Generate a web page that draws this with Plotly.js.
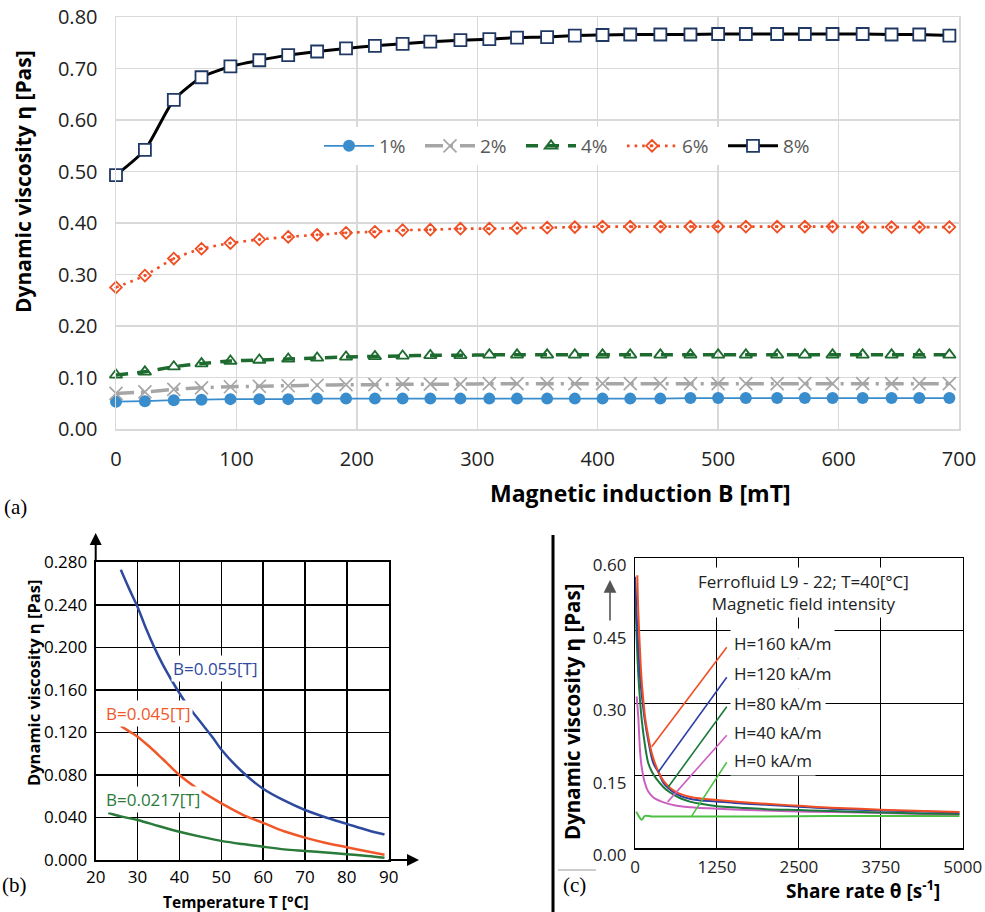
<!DOCTYPE html>
<html><head><meta charset="utf-8">
<script src="https://cdn.plot.ly/plotly-3.0.1.min.js"></script>
<style>html,body{margin:0;padding:0;background:#fff}#chart{width:985px;height:912px}</style>
</head><body><div id="chart"></div>
<script>
// ---------- Panel (a): viscosity vs magnetic induction ----------
const B_mT = [0,24,48,71,95,119,143,167,191,215,238,261,286,310,333,358,381,404,427,452,477,500,523,549,572,595,620,644,667,692];
const eta1pct = [0.053,0.054,0.056,0.057,0.058,0.058,0.058,0.059,0.059,0.059,0.059,0.059,0.059,0.059,0.059,0.059,0.059,0.059,0.059,0.059,0.060,0.060,0.060,0.060,0.060,0.060,0.060,0.060,0.060,0.060];
const eta2pct = [0.069,0.072,0.077,0.080,0.082,0.083,0.084,0.085,0.086,0.086,0.087,0.087,0.087,0.088,0.088,0.088,0.088,0.088,0.088,0.088,0.088,0.088,0.088,0.088,0.088,0.088,0.088,0.088,0.088,0.088];
const eta4pct = [0.105,0.111,0.121,0.127,0.132,0.134,0.136,0.138,0.140,0.141,0.142,0.143,0.143,0.144,0.144,0.144,0.144,0.144,0.144,0.144,0.144,0.144,0.144,0.144,0.144,0.144,0.144,0.144,0.144,0.144];
const eta6pct = [0.275,0.298,0.331,0.350,0.361,0.368,0.373,0.377,0.381,0.383,0.386,0.387,0.389,0.389,0.390,0.391,0.392,0.393,0.393,0.393,0.393,0.393,0.393,0.393,0.393,0.393,0.392,0.392,0.392,0.392];
const eta8pct = [0.493,0.542,0.639,0.683,0.704,0.716,0.726,0.733,0.739,0.744,0.748,0.752,0.755,0.757,0.760,0.761,0.764,0.765,0.766,0.766,0.766,0.767,0.767,0.767,0.767,0.767,0.767,0.766,0.766,0.764];
const seriesNamesA = ['1%','2%','4%','6%','8%'];
const xTicksA = [0,100,200,300,400,500,600,700];

// ---------- Panel (b): viscosity vs temperature ----------
const T_b055 = [26,28,30,32,34,36,38,40,42,45,48,50,55,60,65,70,75,80,85,89];
const eta_b055 = [0.273,0.255,0.238,0.218,0.200,0.184,0.170,0.157,0.145,0.130,0.115,0.104,0.083,0.067,0.056,0.047,0.040,0.034,0.028,0.024];
const T_b045 = [26,28,30,33,36,40,44,48,52,56,60,65,70,75,80,85,89];
const eta_b045 = [0.126,0.121,0.116,0.106,0.095,0.080,0.068,0.058,0.049,0.041,0.035,0.027,0.021,0.016,0.012,0.008,0.005];
const T_b0217 = [23,26,30,35,40,45,50,55,60,65,70,75,80,85,89];
const eta_b0217 = [0.0445,0.041,0.0376,0.032,0.0266,0.022,0.018,0.015,0.0125,0.010,0.0085,0.007,0.0054,0.0038,0.0022];
const labelsB = ['B=0.055[T]','B=0.045[T]','B=0.0217[T]'];
const xTicksB = [20,30,40,50,60,70,80,90];

// ---------- Panel (c): viscosity vs shear rate ----------
const sr_H160 = [35,50,76,100,127,160,203,250,305,370,432,520,600,700,850,1000,1250,1600,2000,2500,3000,3750,4400,4950];
const eta_H160 = [0.565,0.49,0.41,0.35,0.307,0.265,0.231,0.200,0.176,0.155,0.140,0.127,0.119,0.112,0.106,0.103,0.100,0.096,0.092,0.088,0.084,0.080,0.077,0.075];
const sr_H120 = [0,20,40,60,80,112,150,200,280,356,432,520,600,700,850,1000,1250,1600,2000,2500,3000,3750,4400,4950];
const eta_H120 = [0.562,0.50,0.44,0.39,0.35,0.307,0.265,0.225,0.176,0.158,0.136,0.123,0.115,0.108,0.102,0.099,0.097,0.093,0.090,0.086,0.082,0.078,0.076,0.074];
const sr_H80 = [0,15,30,50,76,100,140,203,260,330,432,508,600,700,850,1000,1250,1600,2000,2500,3000,3750,4400,4950];
const eta_H80 = [0.555,0.48,0.42,0.36,0.307,0.27,0.225,0.176,0.158,0.143,0.127,0.118,0.110,0.103,0.096,0.092,0.087,0.084,0.081,0.079,0.077,0.074,0.072,0.071];
const sr_H40 = [26,40,50,60,76,100,153,200,280,380,484,600,700,850,942,1250,1600,2000,2500,3000,3750,4400,4950];
const eta_H40 = [0.314,0.29,0.272,0.245,0.203,0.170,0.134,0.118,0.105,0.098,0.093,0.089,0.087,0.085,0.084,0.082,0.080,0.078,0.076,0.075,0.073,0.071,0.070];
const sr_H0 = [20,60,100,153,250,500,1000,2000,3000,4000,4950];
const eta_H0 = [0.076,0.066,0.059,0.067,0.066,0.066,0.066,0.066,0.067,0.067,0.067];
const labelsC = ['H=160 kA/m','H=120 kA/m','H=80 kA/m','H=40 kA/m','H=0 kA/m'];
const leaderX0 = [255,356,508,499,866];
const leaderY0 = [0.210,0.158,0.127,0.096,0.067];
const leaderX1 = [1400,1400,1400,1400,1400];
const leaderY1 = [0.416,0.354,0.293,0.234,0.178];
const xTicksC = [0,1250,2500,3750,5000];
const yTicksC = [0,0.15,0.30,0.45,0.60];

// ---------- helpers ----------
const W = 985, H = 912;
const X = p => p / W, Y = p => 1 - p / H;
const FONT = 'Open Sans, Roboto, sans-serif';
const SERIF = 'Liberation Serif, DejaVu Serif, serif';

// ---------- traces ----------
const colA = ['#3a8dcc','#a6a6a6','#1e6b30','#f04e23','#000000'];
const traces = [
  {x:B_mT, y:eta1pct, name:seriesNamesA[0], mode:'lines+markers', cliponaxis:false,
   line:{color:colA[0], width:1.8, shape:'spline', smoothing:0.6},
   marker:{symbol:'circle', size:12, color:colA[0]}},
  {x:B_mT, y:eta2pct, name:seriesNamesA[1], mode:'lines+markers', cliponaxis:false,
   line:{color:colA[1], width:3.5, dash:'18px,7px,3px,7px', shape:'spline', smoothing:0.6},
   marker:{symbol:'x-thin-open', size:13, color:colA[1], line:{width:1.7, color:colA[1]}}},
  {x:B_mT, y:eta4pct, name:seriesNamesA[2], mode:'lines+markers', cliponaxis:false,
   line:{color:colA[2], width:3.5, dash:'12px,9px', shape:'spline', smoothing:0.6},
   marker:{symbol:'triangle-up-open', size:11, color:colA[2], line:{width:1.8, color:colA[2]}}},
  {x:B_mT, y:eta6pct, name:seriesNamesA[3], mode:'lines+markers', cliponaxis:false,
   line:{color:colA[3], width:2.6, dash:'2.6px,5px', shape:'spline', smoothing:0.6},
   marker:{symbol:'diamond-open-dot', size:9, color:colA[3], line:{width:1.8, color:colA[3]}}},
  {x:B_mT, y:eta8pct, name:seriesNamesA[4], mode:'lines+markers', cliponaxis:false,
   line:{color:colA[4], width:3, shape:'spline', smoothing:0.6},
   marker:{symbol:'square', size:12, color:'#ffffff', line:{width:1.8, color:'#1f3864'}}},

  {x:T_b055, y:eta_b055, xaxis:'x2', yaxis:'y2', mode:'lines', showlegend:false,
   line:{color:'#2e4a9e', width:2.5, shape:'spline'}},
  {x:T_b045, y:eta_b045, xaxis:'x2', yaxis:'y2', mode:'lines', showlegend:false,
   line:{color:'#f0582a', width:2.5, shape:'spline'}},
  {x:T_b0217, y:eta_b0217, xaxis:'x2', yaxis:'y2', mode:'lines', showlegend:false,
   line:{color:'#2a7a3a', width:2.5, shape:'spline'}},

  {x:sr_H0, y:eta_H0, xaxis:'x3', yaxis:'y3', mode:'lines', showlegend:false,
   line:{color:'#4dc044', width:2, shape:'spline'}},
  {x:sr_H40, y:eta_H40, xaxis:'x3', yaxis:'y3', mode:'lines', showlegend:false,
   line:{color:'#cc5fc0', width:2, shape:'spline'}},
  {x:sr_H80, y:eta_H80, xaxis:'x3', yaxis:'y3', mode:'lines', showlegend:false,
   line:{color:'#1b7a3b', width:2, shape:'spline'}},
  {x:sr_H120, y:eta_H120, xaxis:'x3', yaxis:'y3', mode:'lines', showlegend:false,
   line:{color:'#2e3fa6', width:2, shape:'spline'}},
  {x:sr_H160, y:eta_H160, xaxis:'x3', yaxis:'y3', mode:'lines', showlegend:false,
   line:{color:'#f04e23', width:2, shape:'spline'}}
];
const colC = ['#f04e23','#2e3fa6','#1b7a3b','#cc5fc0','#4dc044'];

// ---------- annotations ----------
const ann = [];
function txt(text, px, py, size, opts) {
  ann.push(Object.assign({text:text, xref:'paper', yref:'paper', x:X(px), y:Y(py),
    xanchor:'center', yanchor:'middle',
    showarrow:false, font:{family:FONT, size:size, color:'#000'}}, opts || {}));
}
txt('<b>Dynamic viscosity η [Pas]</b>', 23, 182, 21, {textangle:-90});
txt('<b>Magnetic induction B [mT]</b>', 640, 493, 23);
txt('(a)', 15, 507, 21, {font:{family:SERIF, size:21, color:'#000'}});

txt('<b>Dynamic viscosity η [Pas]</b>', 33, 683, 16.5, {textangle:-90});
txt('<b>Temperature T [°C]</b>', 236, 902, 15.5);
txt('(b)', 14, 885, 21, {font:{family:SERIF, size:21, color:'#000'}});
const labBpos = [[215,668,'#2e4a9e'],[148,713,'#f0582a'],[153,799,'#2a7a3a']];
labelsB.forEach((t,i) => txt(t, labBpos[i][0], labBpos[i][1], 17,
  {font:{family:FONT, size:17, color:labBpos[i][2]}, bgcolor:'#ffffff', borderpad:1}));

txt('<b>Dynamic viscosity η [Pas]</b>', 572, 712, 20.5, {textangle:-90});
txt('<b>Share rate θ [s<sup>-1</sup>]</b>', 863, 890, 19);
txt('(c)', 574, 885, 21, {font:{family:SERIF, size:21, color:'#000'}});
txt('Ferrofluid L9 - 22; T=40[°C]<br>Magnetic field intensity', 803, 592, 17,
  {font:{family:FONT, size:17, color:'#222'}, bgcolor:'#ffffff', borderpad:2});
const labCy = [643,673,703,732,760];
labelsC.forEach((t,i) => txt(t, 730, labCy[i], 17,
  {xanchor:'left', font:{family:FONT, size:17, color:'#222'}, bgcolor:'#ffffff', borderpad:3}));

// axis arrows panel (b) and arrow panel (c)
function arrow(hx, hy, ax, ay, color, w, size) {
  ann.push({text:'', xref:'paper', yref:'paper', x:X(hx), y:Y(hy), ax:ax, ay:ay,
    showarrow:true, arrowhead:2, arrowsize:size, arrowwidth:w, arrowcolor:color, standoff:0, startstandoff:0});
}
arrow(95.7, 533, 0, 30, '#000', 2, 1.2);
arrow(419, 860, -32, 0, '#000', 2, 1.2);
arrow(610, 580, 0, 42, '#555', 1.6, 1.6);

// ---------- shapes ----------
const shapes = [];
leaderX0.forEach((x0,i) => shapes.push({type:'line', xref:'x3', yref:'y3',
  x0:x0, y0:leaderY0[i], x1:leaderX1[i], y1:leaderY1[i], line:{color:colC[i], width:1.6}}));
shapes.push({type:'line', xref:'paper', yref:'paper', x0:X(553), x1:X(553), y0:Y(535), y1:0,
  line:{color:'#000', width:3}});
shapes.push({type:'line', xref:'paper', yref:'paper', x0:X(558), x1:X(596), y0:Y(870), y1:Y(870),
  line:{color:'#9a9a9a', width:1}});

// ---------- layout ----------
const layout = {
  width:W, height:H, margin:{l:0,r:0,t:0,b:0},
  paper_bgcolor:'#fff', plot_bgcolor:'#fff',
  font:{family:FONT, color:'#000'},
  showlegend:true,
  legend:{orientation:'h', x:X(319), y:Y(127), xanchor:'left', yanchor:'top',
    bgcolor:'#ffffff', font:{family:FONT, size:19, color:'#595959'},
    itemwidth:50, entrywidth:36, entrywidthmode:'pixels'},
  xaxis:{domain:[X(116),X(959)], anchor:'y', range:[0,700], tickvals:xTicksA,
    showgrid:true, gridcolor:'#d9d9d9', gridwidth:1.5, zeroline:false,
    showline:true, linecolor:'#d9d9d9', linewidth:1.5, mirror:true, ticks:'',
    tickfont:{family:FONT, size:20, color:'#222'}, ticklabelstandoff:11},
  yaxis:{domain:[Y(429),Y(17)], anchor:'x', range:[0,0.8], dtick:0.1, tick0:0, tickformat:'.2f',
    showgrid:true, gridcolor:'#d9d9d9', gridwidth:1.5, zeroline:false,
    showline:true, linecolor:'#d9d9d9', linewidth:1.5, mirror:true, ticks:'',
    tickfont:{family:FONT, size:20, color:'#222'}, ticklabelstandoff:13},
  xaxis2:{domain:[X(95.7),X(388.7)], anchor:'y2', range:[20,90], tickvals:xTicksB,
    showgrid:true, gridcolor:'#000', gridwidth:1.5, zeroline:false,
    showline:true, linecolor:'#000', linewidth:2, mirror:true, ticks:'',
    tickfont:{family:FONT, size:17, color:'#000'}, ticklabelstandoff:1},
  yaxis2:{domain:[Y(860),Y(562.3)], anchor:'x2', range:[0,0.28], dtick:0.04, tick0:0, tickformat:'.3f',
    showgrid:true, gridcolor:'#000', gridwidth:1.5, zeroline:false,
    showline:true, linecolor:'#000', linewidth:2, mirror:true, ticks:'',
    tickfont:{family:FONT, size:17, color:'#000'}, ticklabelstandoff:3},
  xaxis3:{domain:[X(635),X(962.7)], anchor:'y3', range:[0,5000], tickvals:xTicksC,
    showgrid:true, gridcolor:'#000', gridwidth:1, zeroline:false,
    showline:true, linecolor:'#000', linewidth:1.2, mirror:true, ticks:'',
    tickfont:{family:FONT, size:17, color:'#222'}, ticklabelstandoff:3},
  yaxis3:{domain:[Y(848.3),Y(558.3)], anchor:'x3', range:[0,0.6], tickvals:yTicksC, tickformat:'.2f',
    showgrid:true, gridcolor:'#000', gridwidth:1, zeroline:false,
    showline:true, linecolor:'#000', linewidth:1.2, mirror:true, ticks:'',
    tickfont:{family:FONT, size:17, color:'#222'}, ticklabelstandoff:4, ticklabelshift:7},
  annotations:ann, shapes:shapes
};
Plotly.newPlot('chart', traces, layout, {displayModeBar:false, staticPlot:true});
</script></body></html>
